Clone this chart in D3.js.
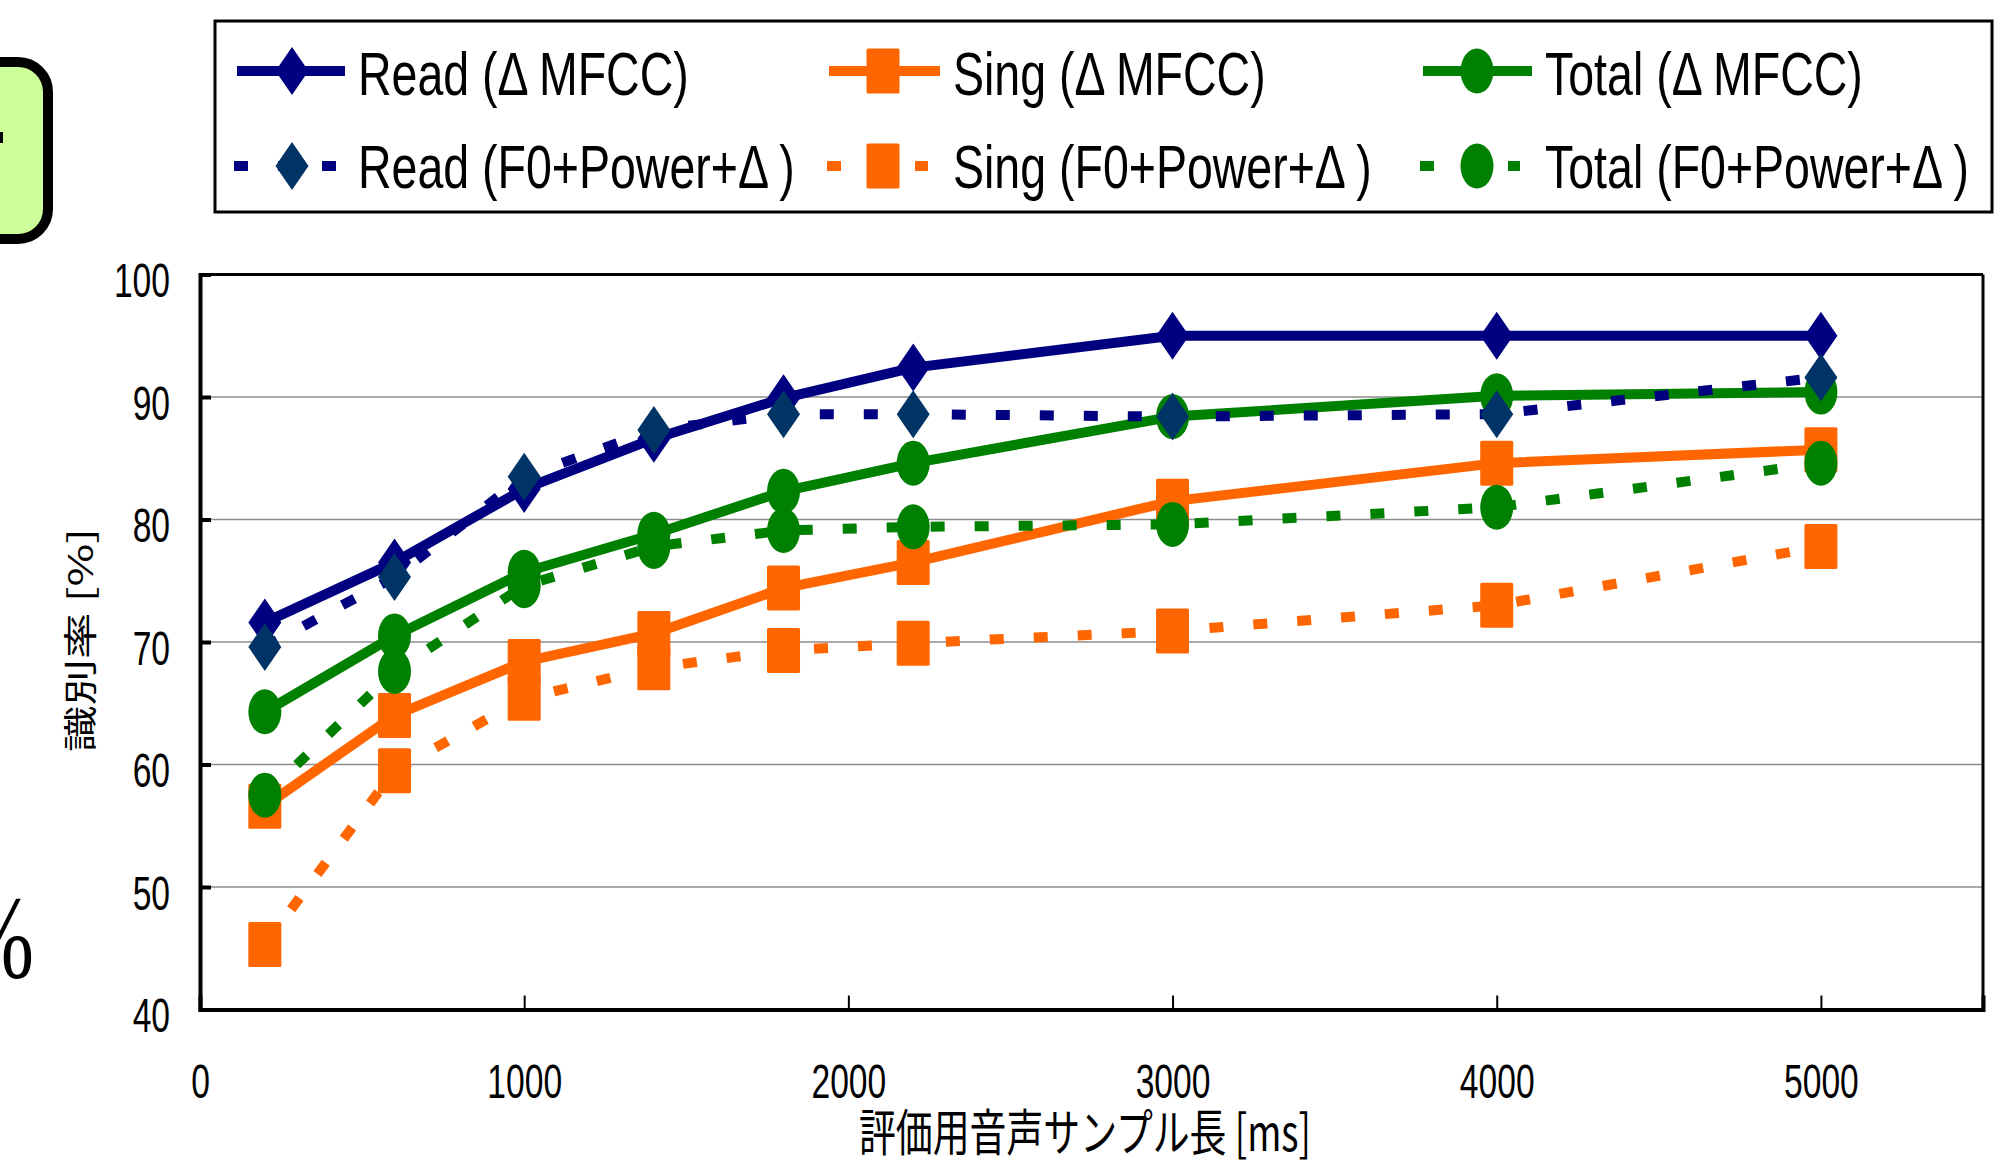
<!DOCTYPE html>
<html><head><meta charset="utf-8">
<script src="https://cdn.jsdelivr.net/npm/d3@7"></script>
<style>body{margin:0;background:#fff;overflow:hidden}</style>
</head><body>
<svg id="c" width="2005" height="1163" xmlns="http://www.w3.org/2000/svg"></svg>
<script>
// ---- data ----
const xValues   = [200, 600, 1000, 1400, 1800, 2200, 3000, 4000, 5000];
const readMFCC  = [71.6, 76.5, 82.5, 86.6, 89.9, 92.4, 95.0, 95.0, 95.0];
const singMFCC  = [56.6, 64.0, 68.4, 70.7, 74.4, 76.5, 81.5, 84.6, 85.7];
const totalMFCC = [64.3, 70.5, 75.7, 78.8, 82.3, 84.6, 88.4, 90.1, 90.4];
const readF0    = [69.6, 75.3, 83.5, 87.3, 88.6, 88.6, 88.4, 88.6, 91.6];
const singF0    = [45.3, 59.5, 65.4, 67.9, 69.3, 69.9, 70.9, 73.0, 77.8];
const totalF0   = [57.5, 67.6, 74.6, 77.8, 79.1, 79.4, 79.6, 81.0, 84.6];
const xTicks = [0, 1000, 2000, 3000, 4000, 5000];
const yTicks = [40, 50, 60, 70, 80, 90, 100];
const gridTicks = [50, 60, 70, 80, 90];
const seriesNames = ["Read (Δ MFCC)", "Sing (Δ MFCC)", "Total (Δ MFCC)",
                     "Read (F0+Power+Δ )", "Sing (F0+Power+Δ )", "Total (F0+Power+Δ )"];
const xTitle = "評価用音声サンプル長 [ms]";
const yTitle = "識別率 [%]";

// ---- styles ----
const NAVY = "#000080", DARKBLUE = "#003366", ORANGE = "#FF6600", GREEN = "#008000";
const series = [
  {name: seriesNames[0], values: readMFCC,  color: NAVY,   fill: NAVY,     dashed: false, shape: "diamond"},
  {name: seriesNames[1], values: singMFCC,  color: ORANGE, fill: ORANGE,   dashed: false, shape: "square"},
  {name: seriesNames[2], values: totalMFCC, color: GREEN,  fill: GREEN,    dashed: false, shape: "circle"},
  {name: seriesNames[3], values: readF0,    color: NAVY,   fill: DARKBLUE, dashed: true,  shape: "diamond"},
  {name: seriesNames[4], values: singF0,    color: ORANGE, fill: ORANGE,   dashed: true,  shape: "square"},
  {name: seriesNames[5], values: totalF0,   color: GREEN,  fill: GREEN,    dashed: true,  shape: "circle"}
];

const svg = d3.select("#c");
const LATIN = "'Liberation Sans', Arial, sans-serif";
const CJK = "'Noto Sans CJK JP', 'Noto Sans', sans-serif";

function condense(sel, f) {
  sel.each(function() {
    const w = this.getComputedTextLength();
    this.setAttribute("textLength", w * f);
    this.setAttribute("lengthAdjust", "spacingAndGlyphs");
  });
}

// ---- background artifacts from the slide ----
svg.append("rect").attr("x", -100).attr("y", 62).attr("width", 148).attr("height", 177)
  .attr("rx", 30).attr("fill", "#CCFF99").attr("stroke", "#000").attr("stroke-width", 10);
svg.append("rect").attr("x", 0).attr("y", 132).attr("width", 3).attr("height", 11).attr("fill", "#000");
const pct = svg.append("text").attr("x", 34).attr("y", 977).attr("text-anchor", "end")
  .attr("font-family", "'Liberation Serif', 'Times New Roman', serif").attr("font-size", 118)
  .attr("fill", "#000").text("%");
condense(pct, 0.73);

// ---- scales ----
const L = 200, R = 1983, T = 274.5, B = 1009.5;
const x = d3.scaleLinear().domain([0, 5500]).range([L, R]);
const y = d3.scaleLinear().domain([40, 100]).range([B, T]);

// gridlines
svg.append("g").selectAll("line").data(gridTicks).join("line")
  .attr("x1", L).attr("x2", R).attr("y1", d => y(d)).attr("y2", d => y(d))
  .attr("stroke", "#8c8c8c").attr("stroke-width", 1.3);

// frame
svg.append("line").attr("x1", L).attr("x2", R).attr("y1", T).attr("y2", T).attr("stroke", "#000").attr("stroke-width", 3);
svg.append("line").attr("x1", R).attr("x2", R).attr("y1", T).attr("y2", B).attr("stroke", "#000").attr("stroke-width", 3);

// y axis
const yAxis = svg.append("g").attr("transform", `translate(${L},0)`)
  .call(d3.axisLeft(y).tickValues(yTicks).tickSize(-11).tickPadding(30).tickFormat(d3.format("d")));
yAxis.select(".domain").attr("stroke", "#000").attr("stroke-width", 4);
yAxis.selectAll(".tick line").attr("stroke", "#000").attr("stroke-width", 4);
yAxis.selectAll(".tick text").attr("dy", null).attr("y", 22)
  .attr("font-family", LATIN).attr("font-size", 48).attr("fill", "#000");
condense(yAxis.selectAll(".tick text"), 0.7);

// x axis
const xAxis = svg.append("g").attr("transform", `translate(0,${B})`)
  .call(d3.axisBottom(x).tickValues(xTicks).tickSize(-14).tickFormat(d3.format("d")));
xAxis.select(".domain").attr("stroke", "#000").attr("stroke-width", 4);
xAxis.selectAll(".tick line").attr("stroke", "#000").attr("stroke-width", 2);
xAxis.selectAll(".tick text").attr("dy", null).attr("y", 88)
  .attr("font-family", LATIN).attr("font-size", 48).attr("fill", "#000");
condense(xAxis.selectAll(".tick text"), 0.7);

// axis titles
svg.append("text").attr("x", 1085).attr("y", 1151).attr("text-anchor", "middle")
  .attr("font-family", CJK).attr("font-size", 50).attr("fill", "#000")
  .attr("textLength", 452).attr("lengthAdjust", "spacingAndGlyphs").text(xTitle);
svg.append("g").attr("transform", "translate(78,640) rotate(-90) scale(1,0.8)")
  .append("text").attr("x", 0).attr("y", 0).attr("text-anchor", "middle")
  .attr("dominant-baseline", "central")
  .attr("font-family", CJK).attr("font-size", 42).attr("fill", "#000")
  .attr("textLength", 224).attr("lengthAdjust", "spacingAndGlyphs").text(yTitle);

// markers
function drawMarker(g, shape, fill) {
  if (shape === "diamond") {
    g.append("path").attr("d", "M0,-24L16.5,0L0,24L-16.5,0Z").attr("fill", fill);
  } else if (shape === "square") {
    g.append("rect").attr("x", -16.5).attr("y", -22.5).attr("width", 33).attr("height", 45)
      .attr("rx", 1.5).attr("fill", fill);
  } else {
    g.append("ellipse").attr("rx", 16.5).attr("ry", 22.5).attr("fill", fill);
  }
}

const line = d3.line().x(d => x(d[0])).y(d => y(d[1]));
const plot = svg.append("g");
series.forEach(s => {
  const pts = xValues.map((xv, i) => [xv, s.values[i]]);
  const p = plot.append("path").datum(pts).attr("d", line)
    .attr("fill", "none").attr("stroke", s.color).attr("stroke-width", 10)
    .attr("stroke-linejoin", "round");
  if (s.dashed) p.attr("stroke-dasharray", "14,30").attr("stroke-linecap", "butt");
  pts.forEach(pt => {
    const g = plot.append("g").attr("transform", `translate(${x(pt[0])},${y(pt[1])})`);
    drawMarker(g, s.shape, s.fill);
  });
});

// legend
svg.append("rect").attr("x", 215).attr("y", 21).attr("width", 1777).attr("height", 191)
  .attr("fill", "#fff").attr("stroke", "#000").attr("stroke-width", 3);
const cols = [
  {solid: [237, 345], dash: [234, 336], mx: 292, tx: 358},
  {solid: [829, 940], dash: [827, 928], mx: 883, tx: 953},
  {solid: [1423, 1532], dash: [1420, 1520], mx: 1477, tx: 1545}
];
const rowY = [71, 166], rowBase = [95, 188];
series.forEach((s, i) => {
  const c = cols[i % 3], r = Math.floor(i / 3);
  const seg = s.dashed ? c.dash : c.solid;
  const ln = svg.append("line").attr("x1", seg[0]).attr("x2", seg[1])
    .attr("y1", rowY[r]).attr("y2", rowY[r]).attr("stroke", s.color).attr("stroke-width", 10);
  if (s.dashed) ln.attr("stroke-dasharray", "14,30");
  const g = svg.append("g").attr("transform", `translate(${c.mx},${rowY[r]})`);
  drawMarker(g, s.shape, s.fill);
  const t = svg.append("text").attr("x", c.tx).attr("y", rowBase[r])
    .attr("font-family", LATIN).attr("font-size", 62).attr("fill", "#000").text(s.name);
  condense(t, 0.75);
});
</script>
</body></html>
